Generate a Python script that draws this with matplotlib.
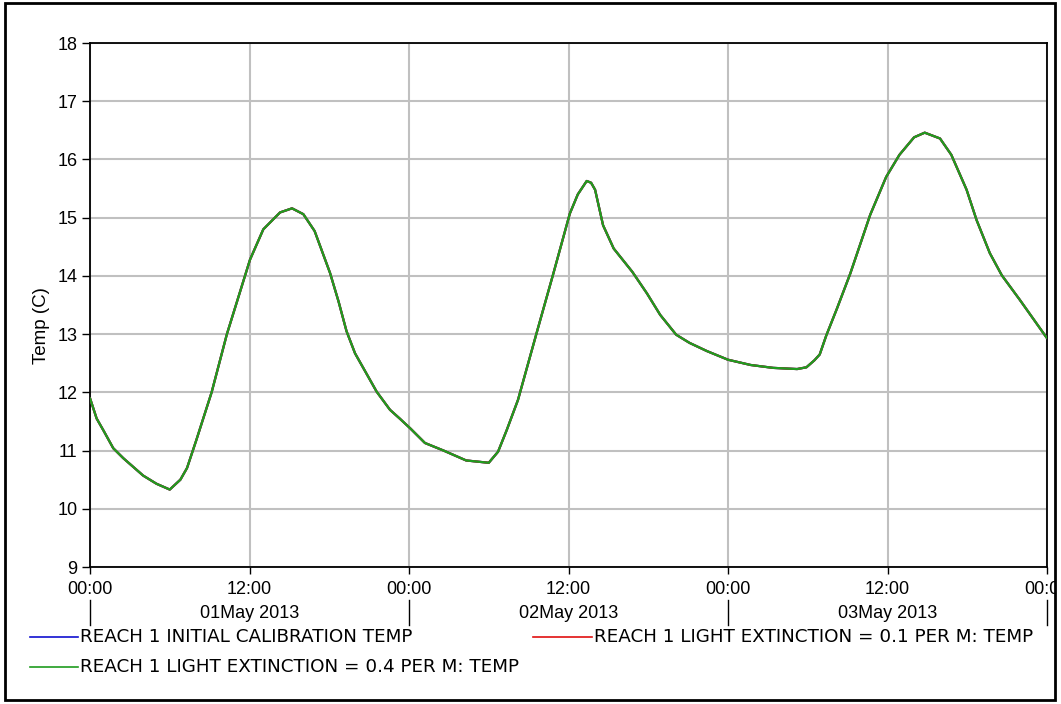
import matplotlib
matplotlib.use("Agg")
import matplotlib.pyplot as plt
from matplotlib.lines import Line2D
from matplotlib.patches import Rectangle

plt.rcParams['font.family'] = ['Liberation Sans', 'DejaVu Sans']

# hours since 01 May 2013 00:00
hours = [0, 0.5, 1, 1.75, 2.5, 4, 5, 6, 6.8, 7.3, 8.0, 9.15, 10.3, 11.66, 12.04,
         13.04, 14.3, 15.2, 16.05, 16.9, 18.06, 18.7, 19.3, 19.94, 21.57, 22.57,
         23.3, 24.1, 25.2, 26.6, 28.3, 30.0, 30.7, 31.35, 32.2, 33.7, 34.86, 36.1,
         36.7, 37.37, 37.7, 38.0, 38.6, 39.4, 40.8, 41.9, 42.9, 44.1, 45.1, 46.4,
         48.0, 49.7, 51.4, 53.2, 53.9, 54.5, 54.9, 55.4, 56.2, 57.2, 58.7, 59.9,
         60.9, 62.0, 62.8, 63.95, 64.8, 65.95, 66.7, 67.7, 68.6, 69.95, 72]
temp_ext04 = [11.9, 11.55, 11.35, 11.04, 10.87, 10.57, 10.43, 10.33, 10.5, 10.7,
              11.18, 12.0, 13.0, 14.0, 14.28, 14.8, 15.09, 15.16, 15.06, 14.77,
              14.05, 13.56, 13.05, 12.67, 12.01, 11.7, 11.55, 11.38, 11.13, 11.0,
              10.83, 10.79, 10.98, 11.35, 11.87, 13.1, 14.04, 15.07, 15.4, 15.63,
              15.6, 15.48, 14.87, 14.47, 14.07, 13.7, 13.33, 12.99, 12.85, 12.71,
              12.56, 12.47, 12.42, 12.40, 12.43, 12.55, 12.65, 12.98, 13.44, 14.04,
              15.05, 15.7, 16.08, 16.38, 16.46, 16.36, 16.08, 15.48, 14.96, 14.39,
              14.01, 13.59, 12.93]
# the three runs are identical on this plot (curves overlap)
temp_initial = list(temp_ext04)
temp_ext01 = list(temp_ext04)

series_labels = ["REACH 1 INITIAL CALIBRATION TEMP",
                 "REACH 1 LIGHT EXTINCTION = 0.1 PER M: TEMP",
                 "REACH 1 LIGHT EXTINCTION = 0.4 PER M: TEMP"]
series_colors = ["#1010d0", "#e01010", "#1f9c1f"]

xtick_hours = [0, 12, 24, 36, 48, 60, 72]
xtick_labels = ["00:00", "12:00", "00:00", "12:00", "00:00", "12:00", "00:00"]
day_label_hours = [12, 36, 60]
day_labels = ["01May 2013", "02May 2013", "03May 2013"]
ytick_values = [9, 10, 11, 12, 13, 14, 15, 16, 17, 18]

W, H = 1061, 704
fig = plt.figure(figsize=(W / 100, H / 100), dpi=100)
ax = fig.add_axes([90 / W, 1 - 567 / H, (1047 - 90) / W, (567 - 43) / H])

for y, c, lab in zip([temp_initial, temp_ext01, temp_ext04], series_colors, series_labels):
    ax.plot(hours, y, color=c, lw=1.6, label=lab, zorder=3,
            solid_joinstyle='round', solid_capstyle='round')

ax.set_xlim(0, 72)
ax.set_ylim(9, 18)
ax.set_yticks(ytick_values)
ax.set_yticklabels([str(v) for v in ytick_values], fontsize=13)
ax.set_xticks(xtick_hours)
ax.set_xticklabels([])
ax.grid(True, color="#c0c0c0", lw=1.5, zorder=0)
ax.tick_params(axis='y', direction='out', length=6, width=1, pad=3)
ax.tick_params(axis='x', direction='out', length=5, width=1)
for s in ax.spines.values():
    s.set_color("black")
    s.set_linewidth(1.3)

# x tick labels (drawn as text so the last one is clipped by the frame like the reference)
for h, lab in zip(xtick_hours, xtick_labels):
    xf = (90 + h * (1047 - 90) / 72) / W
    t = fig.text(xf, 1 - 590 / H, lab, ha='center', va='center', fontsize=13)
    if h == 72:
        t.set_clip_path(Rectangle((0, 0), 1055, H, transform=None))
        t.set_clip_on(True)
# day labels and separators
for h, lab in zip(day_label_hours, day_labels):
    xf = (90 + h * (1047 - 90) / 72) / W
    fig.text(xf, 1 - 614 / H, lab, ha='center', va='center', fontsize=13)
for h in [0, 24, 48, 72]:
    xf = (90 + h * (1047 - 90) / 72) / W
    fig.add_artist(Line2D([xf, xf], [1 - 600 / H, 1 - 625 / H], color='black', lw=1))

fig.text(41 / W, 1 - 326 / H, "Temp (C)", rotation=90, ha='center', va='center',
         fontsize=13.5)

# legend
legend_items = [(30, 78, 637, 0), (533, 592, 637, 1), (30, 78, 667, 2)]
for x0, x1, yy, i in legend_items:
    fig.add_artist(Line2D([x0 / W, x1 / W], [1 - yy / H, 1 - yy / H],
                          color=series_colors[i], lw=1.2))
    fig.text((x1 + 2) / W, 1 - yy / H, series_labels[i], ha='left', va='center',
             fontsize=13.2, family=['DejaVu Sans'])

# outer frame
fig.add_artist(Rectangle((5 / W, 1 - 700 / H), 1050 / W, 697 / H, fill=False,
                         edgecolor='black', lw=2, transform=fig.transFigure))

fig.savefig("out.png", dpi=100)
